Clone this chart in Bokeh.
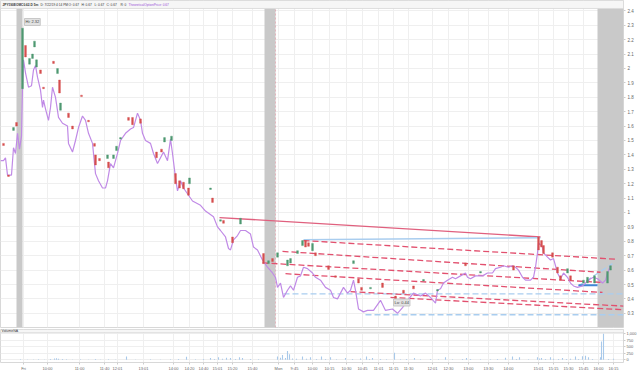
from bokeh.plotting import figure
from bokeh.layouts import column
from bokeh.models import Range1d, FixedTicker, Grid, Label, NumeralTickFormatter
from bokeh.embed import file_html
from bokeh.resources import INLINE

FONT = "Liberation Sans"

# ---------------- data ----------------
# x = bar index along the session-compressed time axis
theo_bar = [0, 3, 5, 7, 11, 13, 15, 17, 19, 21,
            22, 23, 25, 28, 31, 33, 35, 37, 40, 42,
            43, 45, 48, 50, 52, 55, 58, 62, 67, 68,
            72, 75, 78, 82, 85, 88, 92, 95, 98, 102,
            105, 107, 110, 113, 117, 120, 125, 130, 133, 137,
            140, 142, 145, 150, 153, 157, 160, 163, 167, 170,
            172, 175, 177, 180, 183, 187, 192, 200, 205, 213,
            217, 220, 225, 228, 230, 233, 237, 240, 245, 250,
            253, 257, 262, 267, 272, 275, 277, 280, 283, 287,
            290, 293, 297, 300, 303, 307, 312, 315, 320, 325,
            330, 333, 337, 340, 343, 347, 350, 353, 355, 358,
            363, 367, 373, 380, 385, 392, 397, 402, 407, 413,
            420, 425, 430, 435, 437, 440, 443, 447, 452, 455,
            460, 465, 467, 470, 475, 482, 487, 492, 495, 500,
            503, 508, 512, 515, 518, 522, 525, 530, 533, 535,
            537, 538, 542, 543, 547, 550, 553, 555, 557, 560,
            563, 567, 570, 573, 577, 582, 585, 590, 593, 597,
            602, 605, 607, 610]
theo_price = [1.36, 1.36, 1.38, 1.26, 1.26, 1.45, 1.41, 1.55, 1.44, 1.53,
              1.87, 2.06, 1.97, 1.87, 1.88, 1.99, 2.02, 1.94, 1.85, 1.73,
              1.78, 1.72, 1.64, 1.73, 1.87, 1.80, 1.66, 1.62, 1.60, 1.48,
              1.42, 1.50, 1.59, 1.67, 1.64, 1.55, 1.48, 1.27, 1.22, 1.17,
              1.17, 1.22, 1.34, 1.31, 1.41, 1.50, 1.55, 1.58, 1.59, 1.69,
              1.64, 1.55, 1.50, 1.48, 1.41, 1.34, 1.38, 1.42, 1.36, 1.51,
              1.41, 1.24, 1.15, 1.22, 1.17, 1.13, 1.08, 1.05, 1.01, 0.97,
              0.90, 0.875, 0.83, 0.75, 0.74, 0.81, 0.84, 0.875, 0.875, 0.85,
              0.76, 0.74, 0.67, 0.62, 0.58, 0.55, 0.48, 0.51, 0.41, 0.46,
              0.49, 0.46, 0.55, 0.56, 0.62, 0.61, 0.58, 0.55, 0.53, 0.48,
              0.46, 0.41, 0.40, 0.44, 0.48, 0.44, 0.46, 0.53, 0.46, 0.33,
              0.31, 0.32, 0.32, 0.39, 0.32, 0.33, 0.30, 0.34, 0.39, 0.44,
              0.42, 0.44, 0.41, 0.37, 0.46, 0.47, 0.51, 0.53, 0.55, 0.54,
              0.56, 0.58, 0.55, 0.54, 0.56, 0.56, 0.58, 0.58, 0.61, 0.62,
              0.63, 0.62, 0.63, 0.62, 0.60, 0.55, 0.53, 0.53, 0.55, 0.62,
              0.72, 0.79, 0.76, 0.72, 0.69, 0.67, 0.68, 0.63, 0.58, 0.54,
              0.58, 0.55, 0.51, 0.49, 0.48, 0.49, 0.51, 0.54, 0.55, 0.54,
              0.51, 0.53, 0.58, 0.63]

candle_bar = [3, 8, 13, 16, 22, 25, 29, 32, 34, 36,
              40, 43, 53, 57, 59, 60, 68, 72, 81, 88,
              94, 95, 99, 107, 108, 113, 116, 120, 128, 132,
              140, 156, 161, 164, 171, 175, 179, 183, 188, 189,
              210, 212, 220, 223, 232, 240, 263, 268, 272, 277,
              287, 290, 297, 302, 305, 308, 312, 315, 328, 335,
              353, 358, 361, 370, 382, 395, 403, 413, 423, 437,
              465, 480, 513, 538, 541, 543, 552, 557, 560, 567,
              570, 583, 587, 594, 607, 610]
candle_open = [1.48, 1.26, 1.57, 1.625, 1.86, 2.16, 2.03, 2.07, 2.15, 2.01,
               1.99, 1.87, 2.05, 1.965, 1.92, 1.71, 1.69, 1.60, 1.815, 1.64,
               1.48, 1.40, 1.375, 1.375, 1.35, 1.375, 1.43, 1.51, 1.66, 1.66,
               1.65, 1.42, 1.44, 1.49, 1.50, 1.27, 1.22, 1.21, 1.17, 1.20,
               1.16, 1.10, 0.94, 0.945, 0.83, 0.92, 0.715, 0.645, 0.68, 0.69,
               0.63, 0.65, 0.715, 0.77, 0.805, 0.79, 0.735, 0.72, 0.63, 0.56,
               0.645, 0.54, 0.48, 0.47, 0.51, 0.42, 0.46, 0.49, 0.525, 0.455,
               0.65, 0.58, 0.63, 0.83, 0.805, 0.77, 0.72, 0.62, 0.56, 0.58,
               0.56, 0.51, 0.51, 0.51, 0.51, 0.60]
candle_close = [1.465, 1.25, 1.59, 1.60, 2.28, 2.08, 2.07, 2.10, 2.19, 2.06,
                1.965, 1.86, 2.035, 2.0, 1.83, 1.76, 1.66, 1.58, 1.805, 1.63,
                1.46, 1.33, 1.36, 1.40, 1.31, 1.40, 1.46, 1.52, 1.64, 1.61,
                1.62, 1.38, 1.42, 1.52, 1.53, 1.20, 1.17, 1.165, 1.12, 1.24,
                1.17, 1.07, 0.95, 0.925, 0.79, 0.96, 0.645, 0.665, 0.66, 0.72,
                0.67, 0.68, 0.735, 0.805, 0.76, 0.765, 0.785, 0.70, 0.605, 0.55,
                0.665, 0.51, 0.46, 0.48, 0.48, 0.40, 0.44, 0.47, 0.535, 0.465,
                0.63, 0.59, 0.60, 0.74, 0.76, 0.715, 0.69, 0.58, 0.53, 0.61,
                0.53, 0.53, 0.55, 0.56, 0.59, 0.63]

vol_bar = [20, 27, 33, 38, 44, 50, 54, 56, 58, 62, 66, 72, 80, 88, 95, 100, 108, 115,
           126, 135, 150, 160, 170, 178, 186, 195, 203, 210, 214, 218, 222, 226, 230,
           235, 239, 242, 250, 258, 277, 280, 282, 285, 287, 289, 292, 296, 302, 306,
           310, 316, 321, 325, 330, 336, 345, 352, 360, 366, 369, 372, 380, 386, 394,
           400, 406, 414, 420, 430, 438, 445, 452, 462, 466, 470, 480, 490, 497, 505,
           512, 516, 519, 528, 537, 539, 541, 545, 550, 553, 558, 562, 566, 570, 575,
           578, 582, 585, 588, 592, 600, 601, 603, 608, 613]
vol_value = [15, 10, 10, 15, 10, 20, 40, 50, 35, 20, 15, 10, 15, 10, 20, 10, 15, 10,
             125, 10, 15, 10, 15, 20, 110, 15, 20, 60, 20, 90, 30, 75, 60,
             20, 90, 60, 20, 15, 125, 75, 180, 60, 330, 210, 40, 30, 120, 30,
             90, 20, 120, 20, 90, 15, 60, 20, 45, 120, 25, 60, 20, 15, 270,
             15, 20, 60, 15, 20, 15, 90, 15, 20, 60, 20, 15, 15, 20, 75,
             120, 20, 90, 15, 90, 40, 60, 20, 90, 30, 20, 60, 20, 30, 120,
             20, 135, 150, 90, 20, 90, 700, 1000, 20, 30]

# drawing tools (trend lines) end points: bar index / price
red_dash_x0 = [303, 282, 262, 285, 350, 390]
red_dash_y0 = [0.805, 0.73, 0.65, 0.575, 0.45, 0.41]
red_dash_x1 = [617, 600, 600, 602, 623, 623]
red_dash_y1 = [0.675, 0.585, 0.515, 0.445, 0.35, 0.325]
blue_dash_x0 = [283, 365, 578]
blue_dash_y0 = [0.435, 0.29, 0.49]
blue_dash_x1 = [623, 623, 612]
blue_dash_y1 = [0.435, 0.29, 0.645]
red_line_x = [219, 540]
red_line_y = [0.965, 0.83]
blue_line_x = [303, 540]
blue_line_y = [0.81, 0.825]
support_x = [578, 597]
support_y = [0.495, 0.495]

offhours_start = [16, 264, 597]
offhours_end = [22, 275, 623]

price_ticks = [round(0.3 + 0.1 * i, 1) for i in range(22)]
vol_ticks = [0, 250, 500, 750, 1000]
time_tick_bar = [23, 47, 79, 104, 117, 143, 173, 189, 203, 217, 232, 252, 278, 294,
                 312, 329, 346, 362, 378, 393, 408, 432, 448, 468, 488, 508, 538,
                 553, 568, 583, 598, 613]
time_tick_label = ["Fri", "10:00", "11:00", "11:40", "12:01", "13:01", "14:00", "14:20",
                   "14:40", "15:01", "15:20", "15:40", "Mon", "9:45", "10:00", "10:15",
                   "10:30", "10:45", "11:01", "11:15", "11:30", "12:01", "12:30",
                   "13:00", "13:30", "14:00", "15:01", "15:15", "15:30", "15:45",
                   "16:00", "16:15"]

# ---------------- main price panel ----------------
Y0, Y1 = 0.2014, 2.4722
HEADER_BOTTOM = 2.4167
xr = Range1d(0, 623)

p = figure(width=640, height=329, x_range=xr, y_range=Range1d(Y0, Y1),
           output_backend="svg", toolbar_location=None, x_axis_location=None,
           y_axis_location="right", min_border_left=0, min_border_right=17,
           min_border_top=0, min_border_bottom=2)
p.outline_line_color = "#d8d8d8"
p.background_fill_color = "white"
for g in p.xgrid:
    g.visible = False
p.add_layout(Grid(dimension=0, ticker=FixedTicker(ticks=time_tick_bar),
                  grid_line_color="#efefef"))
p.ygrid.ticker = FixedTicker(ticks=price_ticks)
p.ygrid.grid_line_color = "#efefef"

ax = p.yaxis[0]
ax.ticker = FixedTicker(ticks=price_ticks)
ax.major_label_overrides = {t: f"{t:g}" for t in price_ticks}
ax.major_label_text_font_size = "4.5px"
ax.major_label_text_font = FONT
ax.major_label_text_color = "#666666"
ax.axis_line_color = None
ax.major_tick_out = 2
ax.major_tick_in = 0
ax.major_tick_line_color = "#cccccc"
ax.minor_tick_line_color = None
ax.major_label_standoff = 2

# off-hours bands
p.quad(left=offhours_start, right=offhours_end, bottom=Y0, top=HEADER_BOTTOM,
       fill_color="#c9c9c9", line_color=None)
p.segment(x0=[275], y0=[Y0], x1=[275], y1=[HEADER_BOTTOM],
          line_color="#e0506a", line_dash="2 2", line_width=0.7, line_alpha=0.45)

# trend lines
p.line(red_line_x, red_line_y, line_color="#e0607e", line_width=1.3)
p.line(blue_line_x, blue_line_y, line_color="#a9cdef", line_width=1.5)
p.segment(x0=blue_dash_x0, y0=blue_dash_y0, x1=blue_dash_x1, y1=blue_dash_y1,
          line_color="#a9cdef", line_width=1.3, line_dash="6 3")
p.segment(x0=red_dash_x0, y0=red_dash_y0, x1=red_dash_x1, y1=red_dash_y1,
          line_color="#e2506e", line_width=1.3, line_dash="6 3")
p.line(support_x, support_y, line_color="#3f86d6", line_width=2)

# theoretical option price
p.line(theo_bar, theo_price, line_color="#c08ae6", line_width=1.2)

# candles
up_x = [x for x, o, c in zip(candle_bar, candle_open, candle_close) if c >= o]
up_t = [c for o, c in zip(candle_open, candle_close) if c >= o]
up_b = [o for o, c in zip(candle_open, candle_close) if c >= o]
dn_x = [x for x, o, c in zip(candle_bar, candle_open, candle_close) if c < o]
dn_t = [o for o, c in zip(candle_open, candle_close) if c < o]
dn_b = [c for o, c in zip(candle_open, candle_close) if c < o]
p.vbar(x=up_x, top=up_t, bottom=up_b, width=1.8, fill_color="#4f9a72", line_color="#4f9a72", line_width=0.4)
p.vbar(x=dn_x, top=dn_t, bottom=dn_b, width=1.8, fill_color="#d64f4f", line_color="#d64f4f", line_width=0.4)

# labels
p.add_layout(Label(x=23, y=2.323, text="Hi: 2.32", text_font=FONT, text_font_size="4px",
                   text_color="#444444", text_baseline="middle", background_fill_color="#e2e2e2",
                   border_line_color="#c8c8c8", padding=1, x_offset=1))
p.add_layout(Label(x=393, y=0.375, text="Lo: 0.44", text_font=FONT, text_font_size="4px",
                   text_color="#444444", text_baseline="middle", background_fill_color="#e2e2e2",
                   border_line_color="#c8c8c8", padding=1))
p.add_layout(Label(x=624, y=0.68, text="0.67", text_font=FONT, text_font_size="4.5px",
                   text_color="white", text_baseline="middle", background_fill_color="#555555",
                   padding=1))

# header bar
p.quad(left=[0], right=[623], bottom=[HEADER_BOTTOM], top=[Y1],
       fill_color="#f6f6f6", line_color="#d8d8d8", line_width=0.8)
header_x = [2, 40, 68, 81, 94, 106, 120, 128]
header_txt = ["JPY190EOMC0.62.D 5m", "D: 7/22/19 4:14 PM", "O: 0.67", "H: 0.67",
              "L: 0.67", "C: 0.67", "R: 0", "TheoreticalOptionPrice: 0.67"]
for hx, ht in zip(header_x, header_txt):
    p.add_layout(Label(x=hx, y=2.444, text=ht, text_font=FONT, text_font_size="3.2px",
                       text_baseline="middle",
                       text_color="#9b4fd6" if ht.startswith("Theo") else "#333333",
                       text_font_style="bold" if hx == 2 else "normal"))

# ---------------- volume panel ----------------
pv = figure(width=640, height=44, x_range=xr, y_range=Range1d(-110, 1160),
            output_backend="svg", toolbar_location=None, y_axis_location="right",
            min_border_left=0, min_border_right=17, min_border_top=0, min_border_bottom=0)
pv.outline_line_color = "#d8d8d8"
pv.xgrid.ticker = FixedTicker(ticks=time_tick_bar)
pv.xgrid.grid_line_color = "#efefef"
pv.ygrid.ticker = FixedTicker(ticks=vol_ticks)
pv.ygrid.grid_line_color = "#efefef"
vy = pv.yaxis[0]
vy.ticker = FixedTicker(ticks=vol_ticks)
vy.formatter = NumeralTickFormatter(format="0,0")
vx = pv.xaxis[0]
vx.ticker = FixedTicker(ticks=time_tick_bar)
vx.major_label_overrides = dict(zip(time_tick_bar, time_tick_label))
for a in (vy, vx):
    a.major_label_text_font_size = "4px"
    a.major_label_text_font = FONT
    a.major_label_text_color = "#666666"
    a.axis_line_color = None
    a.major_tick_out = 2
    a.major_tick_in = 0
    a.major_tick_line_color = "#cccccc"
    a.minor_tick_line_color = None
    a.major_label_standoff = 1

pv.vbar(x=vol_bar, top=vol_value, bottom=0, width=1.1, fill_color="#a8c9ea", line_color=None)
pv.quad(left=[0], right=[623], bottom=[1040], top=[1160], fill_color="#f6f6f6",
        line_color="#d8d8d8", line_width=0.8)
pv.add_layout(Label(x=1, y=1100, text="VolumeNA", text_font=FONT, text_font_size="3.5px",
                    text_baseline="middle", text_color="#333333"))

# ---------------- scroll bar ----------------
ps = figure(width=640, height=3, x_range=Range1d(0, 640), y_range=Range1d(0, 1),
            output_backend="svg", toolbar_location=None, x_axis_location=None,
            y_axis_location=None, min_border=0)
ps.grid.visible = False
ps.outline_line_color = None
ps.background_fill_color = "#eeeeee"
ps.quad(left=[113], right=[520], bottom=[0], top=[1], fill_color="#cfcfcf", line_color=None)

layout = column(p, pv, ps, spacing=0)
open("out.html", "w").write(file_html(layout, INLINE))
